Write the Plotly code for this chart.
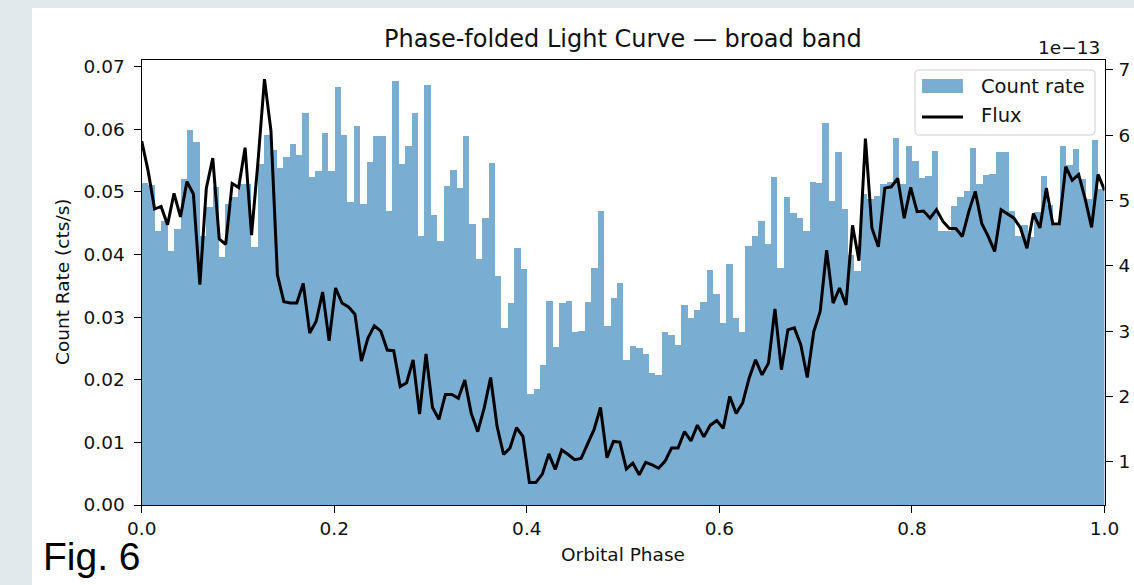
import numpy as np
import plotly.graph_objects as go

W, H = 1134, 585

# ---------------- data ----------------
count_rate = [
    0.0515, 0.0512, 0.0439, 0.0454, 0.0407, 0.0442, 0.0522, 0.0599, 0.0580, 0.0430,
    0.0476, 0.0508, 0.0397, 0.0482, 0.0492, 0.0514, 0.0514, 0.0413, 0.0546, 0.0592,
    0.0567, 0.0539, 0.0557, 0.0578, 0.0559, 0.0627, 0.0524, 0.0534, 0.0595, 0.0534,
    0.0668, 0.0592, 0.0484, 0.0606, 0.0481, 0.0548, 0.0590, 0.0590, 0.0470, 0.0678,
    0.0546, 0.0574, 0.0627, 0.0430, 0.0672, 0.0464, 0.0423, 0.0511, 0.0536, 0.0507,
    0.0590, 0.0450, 0.0393, 0.0459, 0.0547, 0.0366, 0.0284, 0.0323, 0.0411, 0.0378,
    0.0178, 0.0186, 0.0224, 0.0327, 0.0253, 0.0323, 0.0327, 0.0277, 0.0278, 0.0325,
    0.0379, 0.0471, 0.0286, 0.0332, 0.0355, 0.0232, 0.0254, 0.0251, 0.0242, 0.0212,
    0.0209, 0.0277, 0.0273, 0.0256, 0.0321, 0.0300, 0.0313, 0.0325, 0.0376, 0.0337,
    0.0291, 0.0385, 0.0300, 0.0277, 0.0415, 0.0430, 0.0455, 0.0418, 0.0524, 0.0380,
    0.0492, 0.0467, 0.0459, 0.0438, 0.0517, 0.0515, 0.0611, 0.0486, 0.0564, 0.0474,
    0.0400, 0.0374, 0.0498, 0.0489, 0.0495, 0.0514, 0.0516, 0.0587, 0.0514, 0.0574,
    0.0550, 0.0523, 0.0527, 0.0566, 0.0438, 0.0438, 0.0478, 0.0492, 0.0502, 0.0571,
    0.0514, 0.0528, 0.0530, 0.0564, 0.0564, 0.0471, 0.0431, 0.0448, 0.0429, 0.0468,
    0.0527, 0.0480, 0.0447, 0.0574, 0.0544, 0.0569, 0.0521, 0.0489, 0.0583, 0.0506,
]

# flux in units of 1e-13
flux_e13 = [
    5.91, 5.45, 4.87, 4.91, 4.63, 5.11, 4.75, 5.29, 5.10, 3.71,
    5.19, 5.65, 4.41, 4.33, 5.26, 5.20, 5.81, 4.47, 5.60, 6.86,
    6.07, 3.86, 3.45, 3.43, 3.43, 3.73, 2.97, 3.15, 3.60, 2.85,
    3.66, 3.43, 3.37, 3.26, 2.54, 2.89, 3.08, 3.00, 2.71, 2.70,
    2.15, 2.21, 2.56, 1.73, 2.65, 1.83, 1.65, 2.03, 2.03, 1.97,
    2.25, 1.74, 1.46, 1.82, 2.29, 1.54, 1.11, 1.21, 1.52, 1.39,
    0.68, 0.68, 0.81, 1.12, 0.88, 1.18, 1.11, 1.03, 1.05, 1.26,
    1.49, 1.83, 1.06, 1.31, 1.30, 0.89, 0.98, 0.80, 0.99, 0.95,
    0.90, 1.01, 1.21, 1.21, 1.46, 1.32, 1.56, 1.38, 1.56, 1.63,
    1.51, 2.00, 1.74, 1.90, 2.28, 2.56, 2.33, 2.51, 3.34, 2.41,
    3.02, 3.05, 2.79, 2.29, 2.99, 3.30, 4.24, 3.43, 3.66, 3.40,
    4.62, 4.08, 5.95, 4.58, 4.29, 5.19, 5.21, 5.34, 4.73, 5.20,
    4.83, 4.84, 4.73, 4.86, 4.68, 4.57, 4.57, 4.45, 4.83, 5.14,
    4.65, 4.45, 4.22, 4.86, 4.80, 4.73, 4.58, 4.27, 4.80, 4.58,
    5.19, 4.64, 4.64, 5.52, 5.31, 5.40, 5.03, 4.59, 5.40, 5.16,
]

n_bins = len(count_rate)
bin_edges = np.linspace(0.0, 1.0, n_bins + 1)
bin_centers = 0.5 * (bin_edges[:-1] + bin_edges[1:])
flux_phase = np.linspace(0.0, 1.0, len(flux_e13))

x_ticks = [0.0, 0.2, 0.4, 0.6, 0.8, 1.0]
x_ticktext = ["0.0", "0.2", "0.4", "0.6", "0.8", "1.0"]
y_ticks = [0.00, 0.01, 0.02, 0.03, 0.04, 0.05, 0.06, 0.07]
y_ticktext = ["0.00", "0.01", "0.02", "0.03", "0.04", "0.05", "0.06", "0.07"]
y2_ticks = [1, 2, 3, 4, 5, 6, 7]
y2_ticktext = ["1", "2", "3", "4", "5", "6", "7"]

# ---------------- styling ----------------
BAR_COLOR = "rgba(31,119,180,0.6)"
FONT = "DejaVu Sans"
TICK_SIZE = 18.5
TEXT_COLOR = "#111111"


def px(x):
    return x / W


def py(y):
    return 1 - y / H


plot_l, plot_r, plot_t, plot_b = 141.7, 1104.5, 59.5, 505.0

fig = go.Figure()
fig.add_trace(go.Bar(
    x=bin_centers, y=count_rate, width=1.0 / n_bins,
    marker=dict(color=BAR_COLOR, line=dict(width=0)),
    name="Count rate", showlegend=False, yaxis="y",
))
fig.add_trace(go.Scatter(
    x=flux_phase, y=flux_e13, mode="lines",
    line=dict(color="black", width=3),
    name="Flux", showlegend=False, yaxis="y2",
))

axis_common = dict(
    showgrid=False, zeroline=False, showline=True, linecolor="black", linewidth=1.4,
    ticks="outside", ticklen=7, tickwidth=1.4, tickcolor="black",
    tickfont=dict(family=FONT, size=TICK_SIZE, color=TEXT_COLOR),
)

fig.update_layout(
    width=W, height=H,
    margin=dict(l=0, r=0, t=0, b=0, autoexpand=False),
    paper_bgcolor="#e1e9ed",
    plot_bgcolor="white",
    bargap=0,
    showlegend=False,
    xaxis=dict(
        domain=[px(plot_l), px(plot_r)], range=[0, 1], mirror=True,
        tickvals=x_ticks, ticktext=x_ticktext, **axis_common,
    ),
    yaxis=dict(
        domain=[py(plot_b), py(plot_t)], range=[0, 0.07115],
        tickvals=y_ticks, ticktext=y_ticktext, ticklabelstandoff=5, **axis_common,
    ),
    yaxis2=dict(
        overlaying="y", side="right", range=[0.337, 7.16],
        tickvals=y2_ticks, ticktext=y2_ticktext, ticklabelstandoff=2, **axis_common,
    ),
)

# white figure panel
shapes = [dict(type="rect", xref="paper", yref="paper", x0=px(32), x1=1.0, y0=0.0, y1=py(8),
               fillcolor="white", line=dict(width=0), layer="below")]


def rounded_rect(x0, y0, x1, y1, r):
    # pixel coords -> paper path with rounded corners
    X = lambda v: f"{px(v):.6f}"
    Y = lambda v: f"{py(v):.6f}"
    return (f"M {X(x0 + r)},{Y(y0)} L {X(x1 - r)},{Y(y0)} Q {X(x1)},{Y(y0)} {X(x1)},{Y(y0 + r)} "
            f"L {X(x1)},{Y(y1 - r)} Q {X(x1)},{Y(y1)} {X(x1 - r)},{Y(y1)} "
            f"L {X(x0 + r)},{Y(y1)} Q {X(x0)},{Y(y1)} {X(x0)},{Y(y1 - r)} "
            f"L {X(x0)},{Y(y0 + r)} Q {X(x0)},{Y(y0)} {X(x0 + r)},{Y(y0)} Z")


# legend (manual, matplotlib style)
shapes.append(dict(type="path", xref="paper", yref="paper", path=rounded_rect(915, 70, 1095, 135, 4),
                   fillcolor="rgba(255,255,255,0.8)", line=dict(color="#d0d0d0", width=1), layer="above"))
shapes.append(dict(type="rect", xref="paper", yref="paper", x0=px(922), x1=px(963), y0=py(93), y1=py(79),
                   fillcolor=BAR_COLOR, line=dict(width=0), layer="above"))
shapes.append(dict(type="line", xref="paper", yref="paper", x0=px(922), x1=px(963), y0=py(117), y1=py(117),
                   line=dict(color="black", width=3), layer="above"))
fig.update_layout(shapes=shapes)

annotations = [
    dict(text="Phase-folded Light Curve — broad band", x=px((plot_l + plot_r) / 2), y=py(39),
         xanchor="center", yanchor="middle", font=dict(family=FONT, size=24, color=TEXT_COLOR)),
    dict(text="Orbital Phase", x=px((plot_l + plot_r) / 2), y=py(554),
         xanchor="center", yanchor="middle", font=dict(family=FONT, size=18.5, color=TEXT_COLOR)),
    dict(text="Count Rate (cts/s)", x=px(62), y=py(282), textangle=-90,
         xanchor="center", yanchor="middle", font=dict(family=FONT, size=18.5, color=TEXT_COLOR)),
    dict(text="1e−13", x=px(1102), y=py(47), xanchor="right", yanchor="middle",
         font=dict(family=FONT, size=18.5, color=TEXT_COLOR)),
    dict(text="Count rate", x=px(979), y=py(86), xanchor="left", yanchor="middle",
         font=dict(family=FONT, size=19.5, color=TEXT_COLOR)),
    dict(text="Flux", x=px(979), y=py(116), xanchor="left", yanchor="middle",
         font=dict(family=FONT, size=19.5, color=TEXT_COLOR)),
    dict(text="Fig. 6", x=px(41), y=py(556), xanchor="left", yanchor="middle",
         font=dict(family="Liberation Sans", size=39, color="black")),
]
for a in annotations:
    a.update(xref="paper", yref="paper", showarrow=False)
fig.update_layout(annotations=annotations)

fig.write_html("out.html")
